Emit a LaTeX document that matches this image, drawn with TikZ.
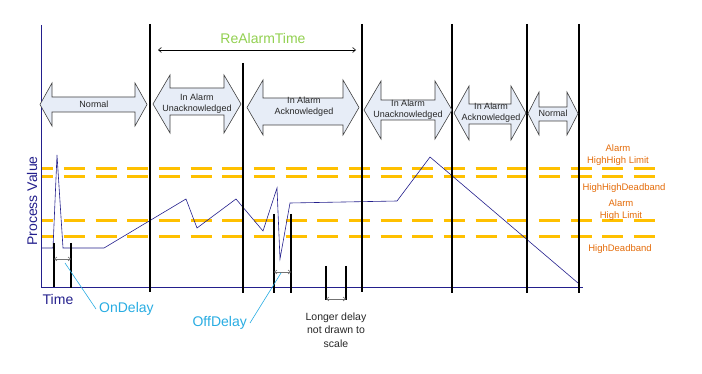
\documentclass[tikz,border=0pt]{standalone}
\usepackage{fontspec}
\setmainfont{Liberation Sans}
\usetikzlibrary{arrows.meta}
\definecolor{pvblue}{RGB}{35,31,140}
\definecolor{limitgold}{RGB}{255,192,0}
\definecolor{limitorange}{RGB}{228,108,10}
\definecolor{delaycyan}{RGB}{40,172,226}
\definecolor{realarmgreen}{RGB}{146,208,80}
\definecolor{statefill}{RGB}{231,237,247}
% double block arrow: x1, x2, top, bottom, shaft top, shaft bottom, head length
\newcommand{\statearrow}[7]{%
	\draw[statearrow] (#1,{(#3+#4)/2}) -- (#1+#7,#3) -- (#1+#7,#5) -- (#2-#7,#5) -- (#2-#7,#3)
	-- (#2,{(#3+#4)/2}) -- (#2-#7,#4) -- (#2-#7,#6) -- (#1+#7,#6) -- (#1+#7,#4) -- cycle;}
\begin{document}
\begin{tikzpicture}[x=1pt,y=-1pt,
	limit/.style={limitgold,line width=3pt,dash pattern=on 21pt off 10.67pt,dash phase=8.8pt},
	statearrow/.style={draw=black!75,fill=statefill,line width=0.6pt},
	statetext/.style={font=\fontsize{9}{11}\selectfont,align=center,text=black!85,inner sep=0pt},
	bar/.style={line width=2.6pt},
	delayarrow/.style={black!55,line width=0.6pt,{Straight Barb[length=2.5pt,width=4pt]}-{Straight Barb[length=2.5pt,width=4pt]}},
	leader/.style={delaycyan,line width=0.6pt},
	limittext/.style={limitorange,font=\fontsize{9.5}{12}\selectfont,align=center,inner sep=0pt},
	bigtext/.style={font=\fontsize{14}{16}\selectfont,inner sep=3pt}]
	\useasboundingbox (0,0) rectangle (702,374);
	\draw[limit] (41,169) -- (655,169);
	\draw[limit] (41,177) -- (655,177);
	\draw[limit] (41,221) -- (655,221);
	\draw[limit] (41,237) -- (655,237);
	\draw[pvblue,line width=0.9pt] (41,25) -- (41,287) -- (583,287);
	\draw[pvblue,line width=0.6pt] (41,248) -- (53,248) -- (57,155) -- (63,248) -- (104,248) -- (186,199)
	-- (197,228) -- (236,199) -- (263,231) -- (277,188) -- (280,259) -- (290,203) -- (397,201)
	-- (430,157) -- (578,283);
	\draw[bar] (150,24) -- (150,292);
	\draw[bar] (243,63) -- (243,293);
	\draw[bar] (362,24) -- (362,292);
	\draw[bar] (452,24) -- (452,293);
	\draw[bar] (527,24) -- (527,293);
	\draw[bar] (579,24) -- (579,293);
	\draw[bar] (54,243) -- (54,287);
	\draw[bar] (71,243) -- (71,288);
	\draw[bar] (274,214) -- (274,293);
	\draw[bar] (291,214) -- (291,293);
	\draw[bar] (326,266) -- (326,300);
	\draw[bar] (346,266) -- (346,300);
	\statearrow{40}{147}{83}{126}{97}{112}{12}
	\statearrow{153}{241}{75}{133}{88}{115}{17}
	\statearrow{247}{359}{80}{135}{98}{125}{16}
	\statearrow{364}{452}{81}{139}{100}{120}{17}
	\statearrow{454}{526}{86}{140}{104}{124}{15}
	\statearrow{528}{578}{92}{135}{107}{121}{11}
	\node[statetext] at (94,104) (normal1) {Normal};
	\node[statetext] at (197,103.5) (unack1) {In Alarm\\Unacknowledged};
	\node[statetext] at (304,106.5) (ack1) {In Alarm\\Acknowledged};
	\node[statetext] at (408,110) (unack2) {In Alarm\\Unacknowledged};
	\node[statetext] at (491,112.5) (ack2) {In Alarm\\Acknowledged};
	\node[statetext] at (553,113) (normal2) {Normal};
	\node[bigtext,realarmgreen] at (263,38) (realarm) {ReAlarmTime};
	\coordinate (ra1) at (158,50);
	\coordinate (ra2) at (356,50);
	\draw[line width=0.6pt,{Straight Barb[length=3pt,width=5pt]}-{Straight Barb[length=3pt,width=5pt]}] (ra1) -- (ra2);
	\node[bigtext,pvblue,rotate=90] at (32,201) (pv) {Process Value};
	\node[bigtext,pvblue] at (58,299) (time) {Time};
	\coordinate (on1) at (54,259);
	\coordinate (on2) at (71,259);
	\draw[delayarrow] (on1) -- (on2);
	\coordinate (onpt) at (65,263);
	\node[bigtext,delaycyan,anchor=west] at (96,309) (ondelay) {OnDelay};
	\draw[leader] (ondelay.west) -- (onpt);
	\coordinate (off1) at (274,272);
	\coordinate (off2) at (291,272);
	\draw[delayarrow] (off1) -- (off2);
	\coordinate (offpt) at (281,273);
	\node[bigtext,delaycyan,anchor=east] at (250,323) (offdelay) {OffDelay};
	\draw[leader] (offdelay.east) -- (offpt);
	\coordinate (long1) at (326,299);
	\coordinate (long2) at (346,299);
	\draw[delayarrow] (long1) -- (long2);
	\node[font=\fontsize{10.5}{13.5}\selectfont,align=center,text=black!85,inner sep=0pt] at (336,330) (longer) {Longer delay\\not drawn to\\scale};
	\node[limittext] at (618,155) (hhlimit) {Alarm\\HighHigh Limit};
	\node[limittext] at (624,188) (hhdead) {HighHighDeadband};
	\node[limittext] at (621,210) (hlimit) {Alarm\\High Limit};
	\node[limittext] at (620,249) (hdead) {HighDeadband};
\end{tikzpicture}
\end{document}
